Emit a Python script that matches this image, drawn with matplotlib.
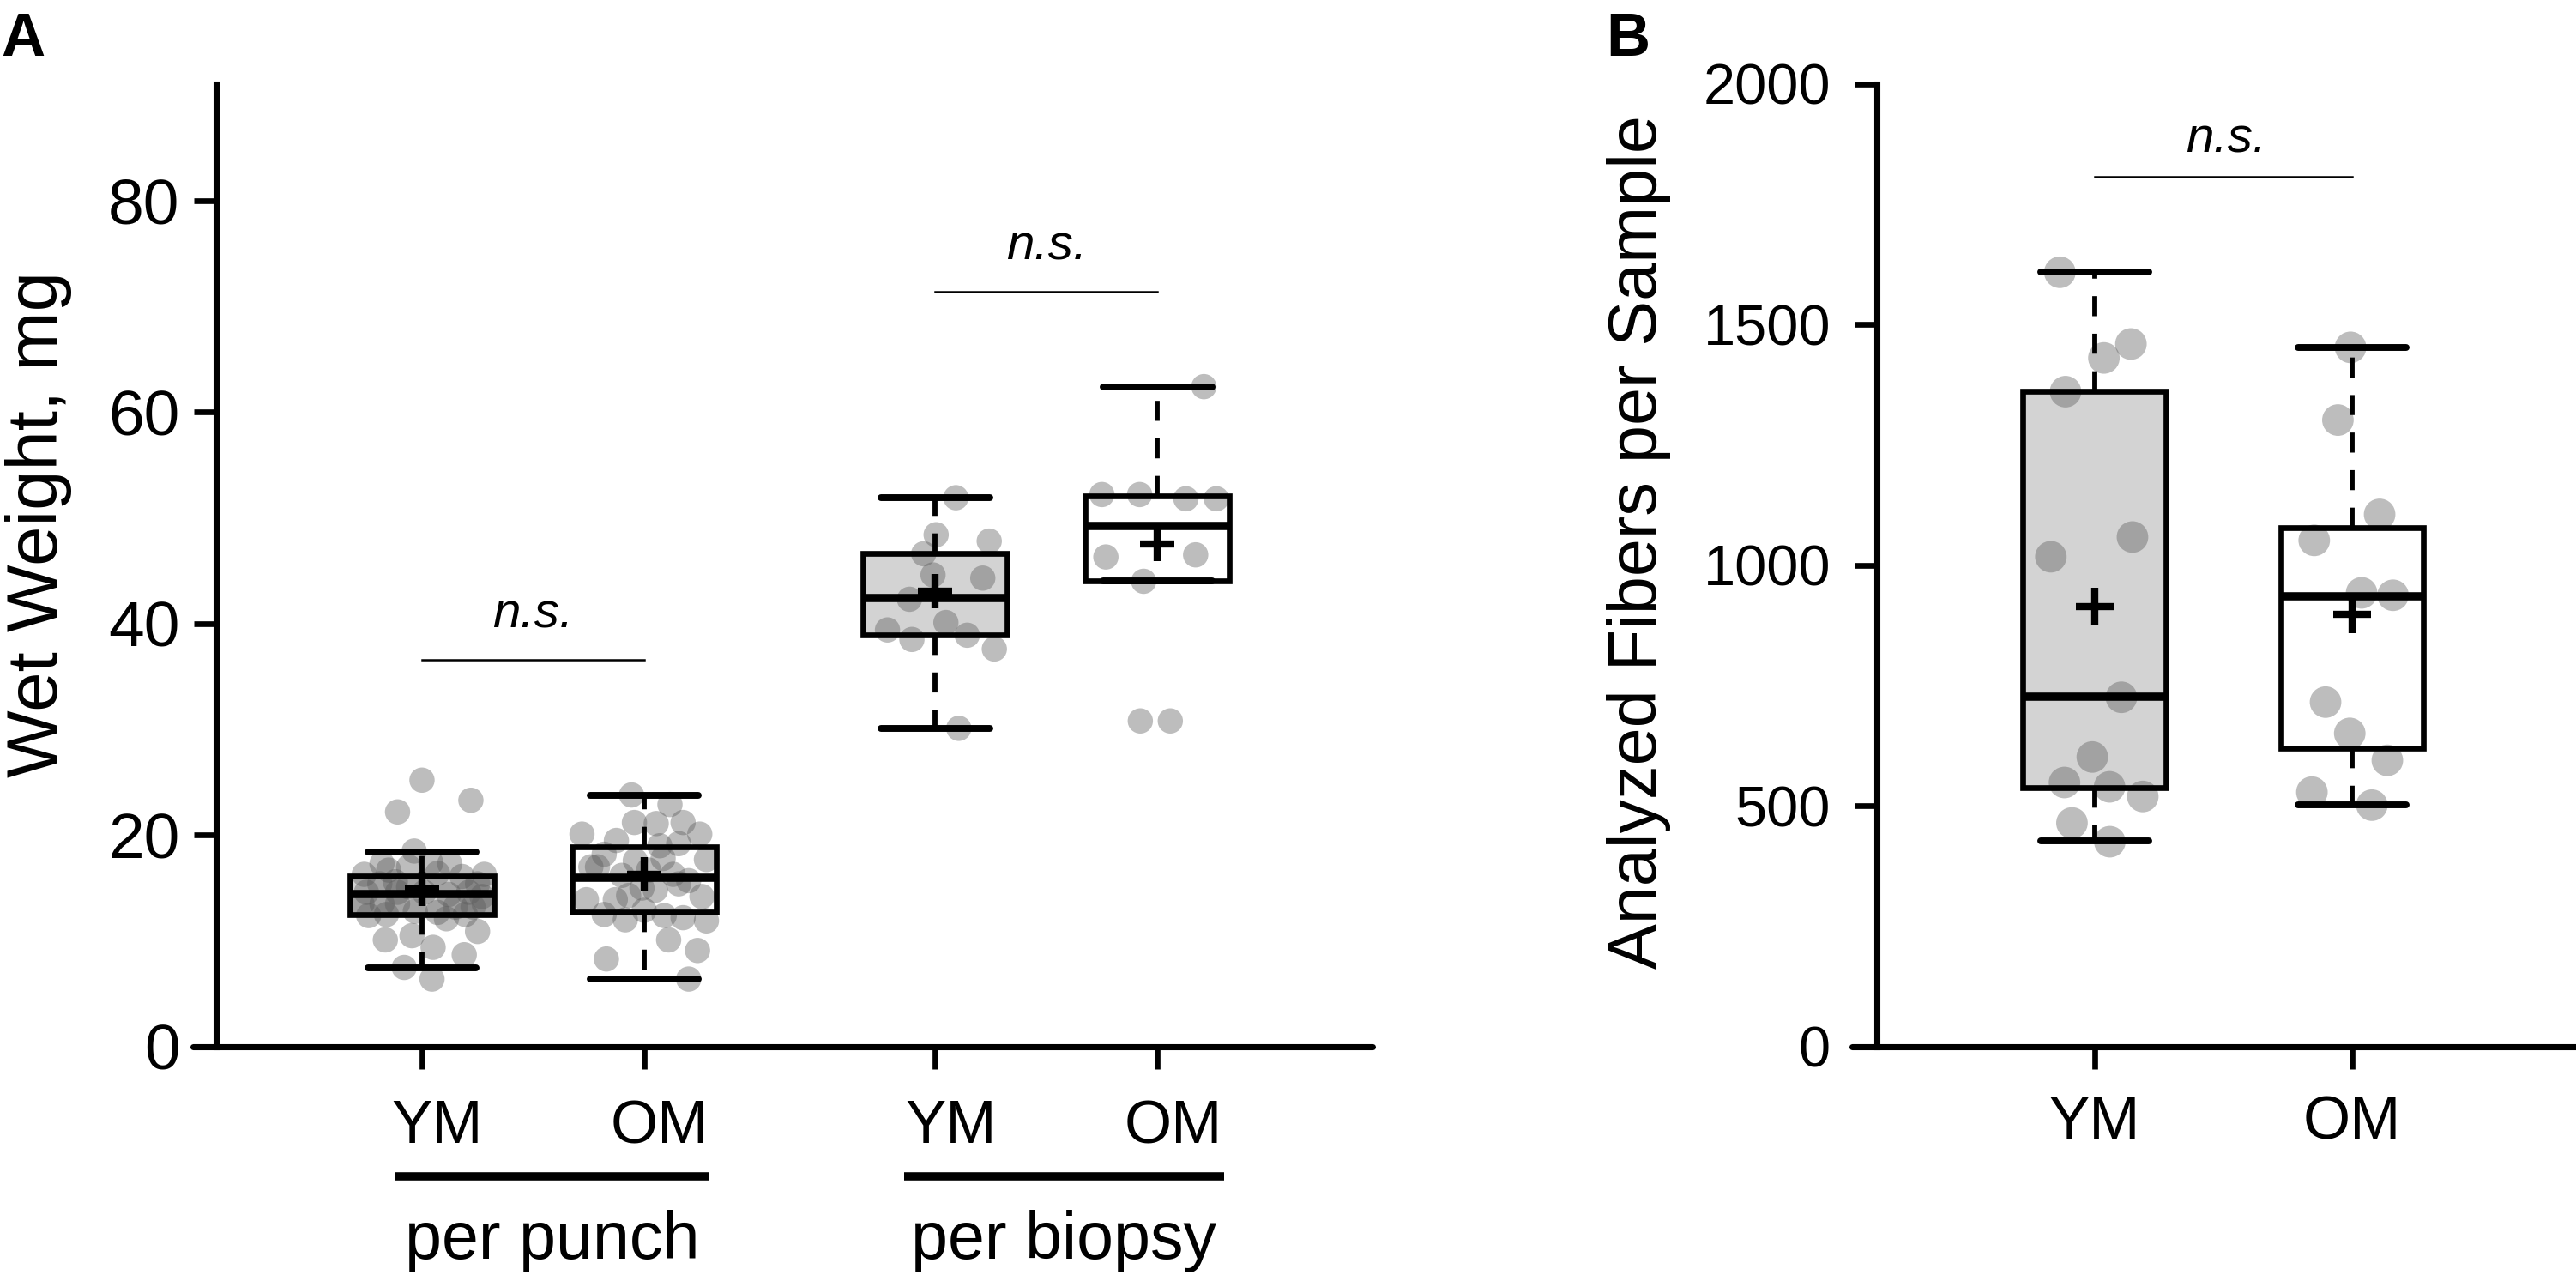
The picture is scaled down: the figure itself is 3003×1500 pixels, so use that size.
import numpy as np
import matplotlib.pyplot as plt
from matplotlib.transforms import blended_transform_factory

plt.rcParams['font.family'] = ['Liberation Sans', 'DejaVu Sans']

# ---- panel A: wet weight, mg ----
groups_a = ['YM', 'OM', 'YM', 'OM']
sections_a = ['per punch', 'per biopsy']

whislo_a = [7.5, 6.4, 30.1, 44.0]
q1_a = [12.5, 12.7, 38.9, 44.0]
med_a = [14.4, 16.0, 42.4, 49.2]
q3_a = [16.1, 18.9, 46.6, 52.1]
whishi_a = [18.4, 23.8, 51.9, 62.4]
mean_a = [14.9, 16.3, 43.1, 47.5]

punch_ym = [25.2, 22.2, 23.3, 18.5, 17.3, 17.3, 17.4, 16.3, 16.7, 15.4, 15.6,
            16.1, 15.4, 16.3, 16.4, 13.5, 13.5, 13.5, 12.8, 12.7, 13.2, 13.2,
            13.5, 12.4, 12.5, 12.1, 12.5, 10.9, 10.1, 10.5, 9.4, 8.7, 7.5, 6.4,
            15.1, 14.6, 14.4, 14.6, 14.6, 14.6, 14.2, 17.0]
punch_ym_jit = [0.0, -0.11, 0.22, -0.035, -0.18, 0.125, 0.04, -0.26, -0.15,
                -0.19, -0.12, 0.18, 0.25, 0.28, 0.07, -0.27, -0.18, -0.11,
                -0.03, 0.07, 0.15, 0.23, 0.28, -0.24, -0.16, 0.11, 0.195,
                0.25, -0.165, -0.045, 0.05, 0.19, -0.08, 0.045, -0.06, 0.01,
                0.12, -0.25, 0.21, -0.11, 0.27, -0.06]

punch_om = [23.8, 22.9, 21.2, 21.1, 21.2, 20.1, 20.1, 19.5, 19.0, 19.2, 18.2,
            17.7, 17.6, 17.0, 17.8, 16.2, 16.3, 15.7, 13.9, 13.9, 15.0, 14.8,
            14.2, 12.5, 12.0, 12.9, 12.4, 12.2, 11.9, 10.1, 9.1, 8.3, 6.4,
            14.3, 17.0, 16.7, 15.4]
punch_om_jit = [-0.057, 0.116, -0.044, 0.054, 0.175, -0.28, 0.25, -0.125,
                0.07, 0.155, -0.18, 0.28, -0.04, -0.24, 0.085, -0.1, 0.13,
                0.2, -0.26, -0.13, -0.01, 0.05, 0.26, -0.18, -0.085, 0.0,
                0.09, 0.175, 0.28, 0.11, 0.24, -0.17, 0.2, -0.07, -0.21,
                0.02, 0.155]

biopsy_ym = [51.9, 48.4, 47.8, 46.6, 44.6, 44.3, 42.3, 40.1, 39.4, 38.5, 38.9,
             37.6, 30.1]
biopsy_ym_jit = [0.093, 0.004, 0.243, -0.052, -0.01, 0.214, -0.116, 0.048,
                 -0.215, -0.105, 0.144, 0.266, 0.106]

biopsy_om = [62.4, 52.2, 52.2, 51.8, 51.8, 46.3, 46.5, 44.0, 30.8, 30.8]
biopsy_om_jit = [0.209, -0.25, -0.08, 0.128, 0.265, -0.232, 0.172, -0.062,
                 -0.077, 0.058]

# ---- panel B: analyzed fibers per sample ----
groups_b = ['YM', 'OM']
whislo_b = [427, 502]
q1_b = [539, 621]
med_b = [727, 936]
q3_b = [1361, 1079]
whishi_b = [1609, 1453]
mean_b = [914, 898]

fibers_ym = [1609, 1460, 1431, 1361, 1018, 1059, 726, 602, 549, 540, 520,
             465, 426]
fibers_ym_jit = [-0.135, 0.141, 0.036, -0.113, -0.17, 0.147, 0.104, -0.009,
                 -0.117, 0.058, 0.187, -0.088, 0.059]
fibers_om = [1453, 1302, 1106, 1052, 943, 938, 716, 651, 595, 529, 502]
fibers_om_jit = [-0.006, -0.055, 0.107, -0.147, 0.037, 0.159, -0.103,
                 -0.009, 0.137, -0.156, 0.077]

fills = ['#d3d3d3', 'white']
dot_color = '#5a5a5a'


def make_stats(lo, q1, med, q3, hi, mean):
    return [dict(whislo=a, q1=b, med=c, q3=d, whishi=e, mean=f, fliers=[])
            for a, b, c, d, e, f in zip(lo, q1, med, q3, hi, mean)]


def draw_boxes(ax, stats, positions, width, capwidth, meansize, colors):
    # fill first, under the dots
    back = ax.bxp(stats, positions=positions, widths=width, patch_artist=True,
                  showcaps=False, showmeans=False, manage_ticks=False,
                  boxprops=dict(edgecolor='none'),
                  whiskerprops=dict(linestyle='none'),
                  medianprops=dict(linestyle='none'), zorder=1)
    for patch, col in zip(back['boxes'], colors):
        patch.set_facecolor(col)
    # outlines on top of the dots
    ax.bxp(stats, positions=positions, widths=width, patch_artist=True,
           showmeans=True, manage_ticks=False,
           capwidths=capwidth,
           boxprops=dict(facecolor='none', edgecolor='black', linewidth=1.6),
           whiskerprops=dict(color='black', linewidth=1.4,
                             linestyle=(0, (4, 3.5))),
           capprops=dict(color='black', linewidth=1.9,
                         solid_capstyle='round'),
           medianprops=dict(color='black', linewidth=2.3),
           meanprops=dict(marker='+', markersize=meansize,
                          markeredgecolor='black', markeredgewidth=2.0),
           zorder=3)


def style_axis(ax, spine_x, pad):
    for s in ['top', 'right']:
        ax.spines[s].set_visible(False)
    ax.spines['left'].set_position(('data', spine_x))
    ax.spines['left'].set_linewidth(1.7)
    ax.spines['bottom'].set_linewidth(1.7)
    ax.spines['bottom'].set_capstyle('round')
    ax.tick_params(axis='both', direction='out', length=6.2, width=1.6)
    ax.tick_params(axis='y', pad=pad)


fig = plt.figure(figsize=(10.01, 5.0), dpi=300)

# ---------------- panel A ----------------
ax = fig.add_axes([0.0749, 0.18667, 0.4579, 0.748])
pos_a = [1.0, 2.0, 3.31, 4.31]
stats_a = make_stats(whislo_a, q1_a, med_a, q3_a, whishi_a, mean_a)
draw_boxes(ax, stats_a, pos_a, 0.65, 0.49, 9.5, fills * 2)

pts_a = [(punch_ym, punch_ym_jit), (punch_om, punch_om_jit),
         (biopsy_ym, biopsy_ym_jit), (biopsy_om, biopsy_om_jit)]
for p, (vals, jit) in zip(pos_a, pts_a):
    ax.scatter(p + np.array(jit), vals, s=50, color=dot_color, alpha=0.4,
               edgecolors='none', zorder=2)

ax.set_xlim(-0.031, 5.278)
ax.set_ylim(0, 91)
ax.set_yticks([0, 20, 40, 60, 80])
ax.set_xticks(pos_a)
ax.set_xticklabels([])
style_axis(ax, 0.073, 4)
for lab in ax.get_yticklabels():
    lab.set_fontsize(18)

trans = blended_transform_factory(ax.transData, ax.transAxes)
for p, g in zip(pos_a, groups_a):
    ax.text(p + 0.07, -0.100, g, transform=trans, ha='center',
            va='baseline', fontsize=17)
bar_spans = [(0.88, 2.293), (3.17, 4.61)]
for (x0, x1), name in zip(bar_spans, sections_a):
    ax.plot([x0, x1], [-0.1347, -0.1347], color='black', lw=2.3,
            solid_capstyle='butt', transform=trans, clip_on=False)
    ax.text((x0 + x1) / 2, -0.220, name, transform=trans, ha='center',
            va='baseline', fontsize=18.5)

# significance marks
ax.plot([pos_a[0], pos_a[1]], [36.6, 36.6], color='black', lw=0.6)
ax.text((pos_a[0] + pos_a[1]) / 2, 39.6, 'n.s.', style='italic',
        ha='center', va='baseline', fontsize=14)
ax.plot([pos_a[2], pos_a[3]], [71.4, 71.4], color='black', lw=0.6)
ax.text((pos_a[2] + pos_a[3]) / 2, 74.4, 'n.s.', style='italic',
        ha='center', va='baseline', fontsize=14)

fig.text(0.0223, 0.5927, 'Wet Weight, mg', rotation=90,
         rotation_mode='anchor', ha='center', va='baseline', fontsize=20)
fig.text(0.0005, 0.9567, 'A', fontweight='bold', fontsize=17,
         ha='left', va='baseline')

# ---------------- panel B ----------------
bx = fig.add_axes([0.7189, 0.18667, 0.2811, 0.748])
pos_b = [1.0, 2.0]
stats_b = make_stats(whislo_b, q1_b, med_b, q3_b, whishi_b, mean_b)
draw_boxes(bx, stats_b, pos_b, 0.556, 0.42, 10.5, fills)

for p, (vals, jit) in zip(pos_b, [(fibers_ym, fibers_ym_jit),
                                  (fibers_om, fibers_om_jit)]):
    bx.scatter(p + np.array(jit), vals, s=78, color=dot_color, alpha=0.4,
               edgecolors='none', zorder=2)

bx.set_xlim(0.057, 2.87)
bx.set_ylim(0, 2000)
bx.set_yticks([0, 500, 1000, 1500, 2000])
bx.set_xticks(pos_b)
bx.set_xticklabels(groups_b, fontsize=17)
style_axis(bx, 0.153, 6.7)
bx.tick_params(axis='x', pad=7.4)
for lab in bx.get_yticklabels():
    lab.set_fontsize(16)

bx.plot([pos_b[0], pos_b[1]], [1807, 1807], color='black', lw=0.6)
bx.text(1.51, 1859, 'n.s.', style='italic', ha='center', va='baseline',
        fontsize=14)

fig.text(0.643, 0.579, 'Analyzed Fibers per Sample', rotation=90,
         rotation_mode='anchor', ha='center', va='baseline', fontsize=19)
fig.text(0.6235, 0.9567, 'B', fontweight='bold', fontsize=17,
         ha='left', va='baseline')

fig.savefig('out.png', dpi=300)
